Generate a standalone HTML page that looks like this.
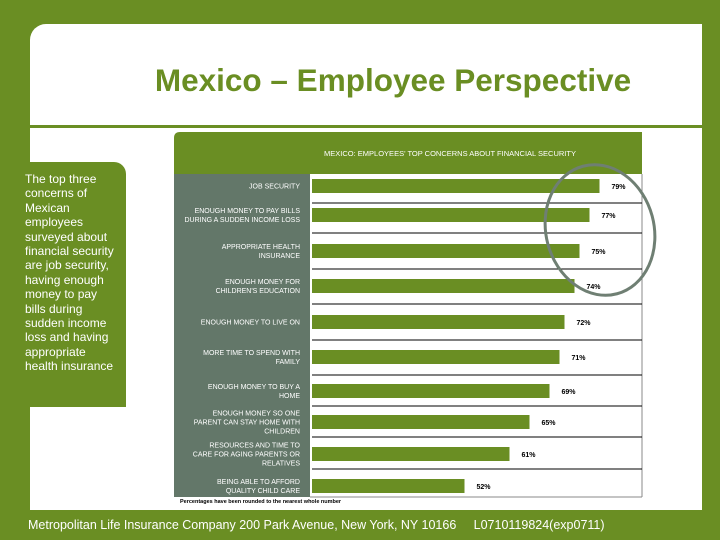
<!DOCTYPE html>
<html><head><meta charset="utf-8"><style>
body{margin:0;width:720px;height:540px;overflow:hidden;background:#6a8e23;font-family:"Liberation Sans",sans-serif;position:relative}
.abs{position:absolute}
</style></head><body>
<div class="abs" style="left:30px;top:24px;width:672px;height:486px;background:#fff;border-top-left-radius:16px"></div>
<div class="abs" style="left:30px;top:125px;width:672px;height:3px;background:#6a8e23"></div>
<div class="abs" style="left:30px;top:62px;width:726px;text-align:center;font-size:31.5px;font-weight:bold;color:#6a8e23">Mexico – Employee Perspective</div>
<div class="abs" style="left:0;top:162px;width:126px;height:245px;background:#6a8e23;border-top-right-radius:12px"></div>
<div class="abs" style="left:25px;top:172px;width:94px;font-size:12px;line-height:14.4px;color:#fff">The top three concerns of Mexican employees surveyed about financial security are job security, having enough money to pay bills during sudden income loss and having appropriate health insurance</div>
<svg class="abs" style="left:0;top:0" width="720" height="540" id="chart">
<path d="M174,174 V138 Q174,132 180,132 H642 V174 Z" fill="#6a8e23"/>
<text x="450" y="156" text-anchor="middle" font-size="7.5" fill="#fff">MEXICO:  EMPLOYEES' TOP CONCERNS ABOUT FINANCIAL SECURITY</text>
<rect x="174" y="174" width="136" height="323" fill="#637769"/>
<line x1="310" y1="497" x2="642" y2="497" stroke="#888" stroke-width="1"/>
<line x1="642" y1="174" x2="642" y2="497" stroke="#888" stroke-width="1"/>
<g id="bars"></g>
<ellipse cx="600" cy="230" rx="54" ry="66" transform="rotate(-15 600 230)" fill="none" stroke="#6f7f73" stroke-width="3"/>
<text x="180" y="503" font-size="5.5" font-weight="bold" fill="#000">Percentages have been rounded to the nearest whole number</text>
</svg>
<div class="abs" style="left:28px;top:518px;font-size:12.5px;color:#fff;white-space:pre">Metropolitan Life Insurance Company 200 Park Avenue, New York, NY 10166     L0710119824(exp0711)</div>
<script>
const categories=[["JOB SECURITY"],["ENOUGH MONEY TO PAY BILLS","DURING A SUDDEN INCOME LOSS"],["APPROPRIATE HEALTH","INSURANCE"],["ENOUGH MONEY FOR","CHILDREN'S EDUCATION"],["ENOUGH MONEY TO LIVE ON"],["MORE TIME TO SPEND WITH","FAMILY"],["ENOUGH MONEY TO BUY A","HOME"],["ENOUGH MONEY SO ONE","PARENT CAN STAY HOME WITH","CHILDREN"],["RESOURCES AND TIME TO","CARE FOR AGING PARENTS OR","RELATIVES"],["BEING ABLE TO AFFORD","QUALITY CHILD CARE"]];
const values=[79,77,75,74,72,71,69,65,61,52];
const valueLabels=["79%","77%","75%","74%","72%","71%","69%","65%","61%","52%"];
const ns="http://www.w3.org/2000/svg";
const g=document.getElementById('bars');
// row layout (pixel geometry, not data)
const rowCenters=[186,215,251,286,322,357,391,422,454,486];
const rowSeps=[203,233,269,304,340,375,406,437,469];
const x=v=>312+(v-21.5)*5;
function mk(t,a){const e=document.createElementNS(ns,t);for(const k in a)e.setAttribute(k,a[k]);g.appendChild(e);return e;}
rowSeps.forEach(y=>{
  const l=mk('line',{x1:312,x2:642,y1:y,y2:y,stroke:'#000','stroke-width':1});
  
  
});
values.forEach((v,i)=>{
  const cy=rowCenters[i];
  const r=mk('rect',{x:312,y:cy-7,width:x(v)-312,height:14,fill:'#6a8e23'});
  
  
  const t=mk('text',{x:x(v)+12,y:cy+3,'font-size':7,'font-weight':'bold',fill:'#000'});
  t.textContent=valueLabels[i];
  
  
  const lines=categories[i];
  lines.forEach((s,j)=>{
    const c=mk('text',{x:300,y:cy+2.5+(j-(lines.length-1)/2)*9,'font-size':7,fill:'#fff','text-anchor':'end'});
    c.textContent=s;
    
    
  });
});
</script>
</body></html>
